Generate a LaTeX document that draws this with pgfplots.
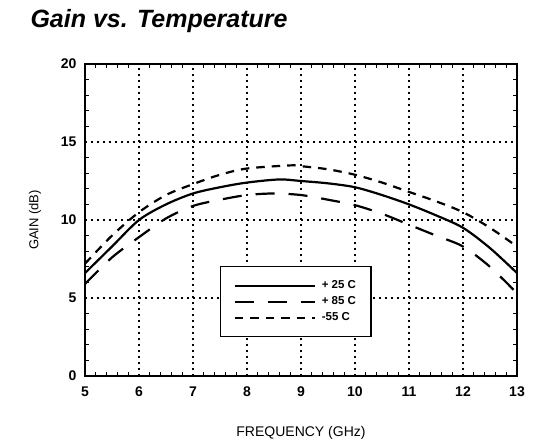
\documentclass[border=0pt]{standalone}
\usepackage{fontspec}
\setmainfont{Liberation Sans}
\usepackage{pgfplots}
\pgfplotsset{compat=1.18}
\begin{document}
\begin{tikzpicture}
\useasboundingbox (-85bp,-68bp) rectangle (450bp,376bp);
\begin{axis}[
  at={(0,0)}, anchor=south west,
  scale only axis, width=432bp, height=312bp,
  xmin=5, xmax=13, ymin=0, ymax=20,
  xtick={5,6,...,13}, ytick={0,5,...,20},
  minor x tick num=4, minor y tick num=4,
  tick align=inside,
  major tick length=0pt, minor tick length=4bp,
  every tick/.style={black, line width=1bp},
  axis line style={line width=2.4bp},
  grid=major,
  major grid style={black, line width=1.3bp, dash pattern=on 2bp off 4bp},
  /pgf/number format/assume math mode=true,
  tick label style={font=\fontsize{14bp}{16bp}\selectfont\bfseries},
  xticklabel style={yshift=-7bp},
  yticklabel style={xshift=-5bp},
  xlabel={FREQUENCY (GHz)},
  ylabel={GAIN (dB)},
  xlabel style={at={(axis description cs:0.5,-0.183)}, anchor=center, font=\fontsize{14bp}{16bp}\selectfont},
  ylabel style={at={(axis description cs:-0.116,0.5)}, anchor=center, font=\fontsize{13bp}{15bp}\selectfont},
  legend style={at={(axis cs:7.5,2.5)}, anchor=south west, draw=black, line width=1.2bp,
    font=\fontsize{11.5bp}{12bp}\selectfont\bfseries, inner xsep=13bp, inner ysep=12bp,
    row sep=2.5bp, cells={anchor=west}},
  legend image code/.code={\draw[#1] (0bp,0bp) -- (80bp,0bp); \path (84bp,0bp);},
]
\addplot[black, line width=2.2bp, smooth] coordinates {
  (5,6.6) (5.5,8.3) (6,10.0) (6.5,11.0) (7,11.7) (7.5,12.1) (8,12.4) (8.6,12.6)
  (9,12.5) (9.5,12.35) (10,12.1) (10.5,11.6) (11,11.0) (11.5,10.3) (12,9.5)
  (12.5,8.2) (13,6.6)
};
\addlegendentry{+ 25 C}
\addplot[black, line width=2.2bp, smooth, dash pattern=on 19bp off 14bp] coordinates {
  (5,5.9) (5.5,7.6) (6,8.9) (6.5,10.1) (7,10.9) (7.5,11.3) (8,11.6) (8.5,11.7)
  (9,11.6) (9.5,11.3) (10,10.95) (10.5,10.4) (11,9.7) (11.5,9.0) (12,8.3)
  (12.5,7.0) (13,5.3)
};
\addlegendentry{+ 85 C}
\addplot[black, line width=2.2bp, smooth, dash pattern=on 8.5bp off 7bp] coordinates {
  (5,7.2) (5.5,9.0) (6,10.5) (6.5,11.6) (7,12.3) (7.5,12.9) (8,13.3) (8.8,13.5)
  (9,13.45) (9.5,13.25) (10,12.9) (10.5,12.4) (11,11.8) (11.5,11.2) (12,10.5)
  (12.5,9.5) (13,8.3)
};
\addlegendentry{-55 C}
\end{axis}
\node[anchor=base west, font=\fontsize{25bp}{30bp}\selectfont\bfseries\itshape] at (-58bp,348bp) {Gain vs. Temperature};
\end{tikzpicture}
\end{document}
